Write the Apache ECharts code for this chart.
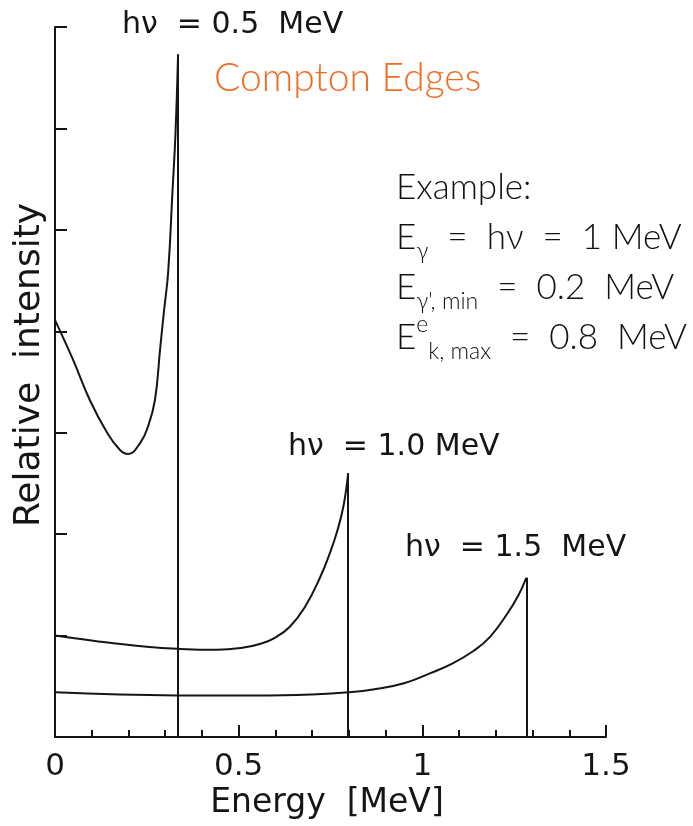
<!DOCTYPE html>
<html>
<head>
<meta charset="utf-8">
<script src="https://cdn.jsdelivr.net/npm/echarts@6/dist/echarts.min.js"></script>
<style>
  html, body { margin: 0; padding: 0; background: #ffffff; }
  #chart { width: 693px; height: 826px; }
</style>
</head>
<body>
<div id="chart"></div>
<script>
// Compton continua for three photon energies: [energy MeV, relative intensity]
const spectrum05 = [[0, 4.11], [0.049, 3.72], [0.095, 3.32], [0.142, 3.00], [0.177, 2.83],
  [0.199, 2.79], [0.232, 2.90], [0.253, 3.06], [0.272, 3.32], [0.286, 3.82], [0.297, 4.21],
  [0.308, 4.58], [0.320, 5.39], [0.328, 5.95], [0.335, 6.73]];
const spectrum10 = [[0, 1.00], [0.123, 0.94], [0.250, 0.89], [0.332, 0.87], [0.441, 0.86],
  [0.510, 0.88], [0.560, 0.92], [0.600, 0.98], [0.640, 1.09], [0.680, 1.28], [0.720, 1.56],
  [0.750, 1.83], [0.770, 2.05], [0.786, 2.29], [0.798, 2.60]];
const spectrum15 = [[0, 0.44], [0.333, 0.41], [0.550, 0.41], [0.700, 0.42], [0.800, 0.44],
  [0.870, 0.47], [0.950, 0.53], [1.022, 0.63], [1.080, 0.72], [1.140, 0.85], [1.185, 0.99],
  [1.232, 1.22], [1.262, 1.40], [1.283, 1.57]];

// Compton edge energies (MeV) where each continuum drops to zero
const edges = [0.335, 0.798, 1.283];
const edgePeaks = [6.73, 2.60, 1.57];
const photonLabels = ['hν  = 0.5  MeV', 'hν  = 1.0 MeV', 'hν  = 1.5  MeV'];

const xTicks = [0, 0.5, 1, 1.5];

const ink = '#151515';
const plotFont = 'DejaVu Sans';
const noteFont = 'Lato';

const chart = echarts.init(document.getElementById('chart'), null, { renderer: 'canvas' });

function edgeLine(i) {
  return {
    silent: true,
    symbol: 'none',
    label: { show: false },
    lineStyle: { color: ink, width: 2, type: 'solid' },
    data: [[{ coord: [edges[i], 0] }, { coord: [edges[i], edgePeaks[i]] }]]
  };
}

const spectra = [spectrum05, spectrum10, spectrum15];

chart.setOption({
  animation: false,
  backgroundColor: '#ffffff',
  grid: { left: 55, right: 87, top: 27, bottom: 89 },
  xAxis: {
    type: 'value',
    min: 0, max: 1.5, interval: 0.5,
    axisLine: { show: true, lineStyle: { color: ink, width: 2 } },
    axisTick: { show: true, inside: true, length: 12, lineStyle: { color: ink, width: 2 } },
    minorTick: { show: true, splitNumber: 5, length: 7, lineStyle: { color: ink, width: 2 } },
    splitLine: { show: false },
    axisLabel: {
      color: ink, fontFamily: plotFont, fontSize: 31, margin: 14,
      formatter: v => (xTicks.indexOf(v) >= 0 ? String(v) : '')
    }
  },
  yAxis: {
    type: 'value',
    min: 0, max: 7, interval: 1,
    axisLine: { show: true, lineStyle: { color: ink, width: 2 } },
    axisTick: { show: true, inside: true, length: 12, lineStyle: { color: ink, width: 2 } },
    splitLine: { show: false },
    axisLabel: { show: false }
  },
  series: spectra.map((d, i) => ({
    type: 'line',
    data: d,
    smooth: 0.45,
    symbol: 'none',
    lineStyle: { color: ink, width: 2 },
    markLine: edgeLine(i),
    z: 3
  })),
  graphic: [
    // photon energy labels above each edge
    { type: 'text', left: 122, top: 10, style: { text: photonLabels[0], font: '30px "' + plotFont + '"', fill: ink } },
    { type: 'text', left: 288, top: 432, style: { text: photonLabels[1], font: '30px "' + plotFont + '"', fill: ink } },
    { type: 'text', left: 405, top: 533, style: { text: photonLabels[2], font: '30px "' + plotFont + '"', fill: ink } },
    // axis titles
    {
      type: 'text', x: 327, y: 803,
      style: { text: 'Energy  [MeV]', font: '33px "' + plotFont + '"', fill: ink, align: 'center', verticalAlign: 'middle' }
    },
    {
      type: 'text', x: 30, y: 365, rotation: Math.PI / 2,
      style: { text: 'Relative  intensity', font: '36px "' + plotFont + '"', fill: ink, align: 'center', verticalAlign: 'middle' }
    },
    // annotation
    { type: 'text', left: 214, top: 59, style: { text: 'Compton Edges', font: '300 39px "' + noteFont + '"', fill: '#f26b21' } },
    {
      type: 'text', left: 396, top: 163,
      style: {
        text: 'Example:\n{m|E}{s|γ}{m|  =  hν  =  1 MeV}\n{m|E}{s|γ\', min}{m|  =  0.2  MeV}\n{m|E}{p|e}{s|k, max}{m|  =  0.8  MeV}',
        font: '300 35px "' + noteFont + '"', fill: '#111', lineHeight: 50,
        rich: {
          m: { fontFamily: noteFont, fontWeight: 300, fontSize: 35, lineHeight: 50, fill: '#111' },
          s: { fontFamily: noteFont, fontWeight: 300, fontSize: 23, lineHeight: 26, verticalAlign: 'bottom', fill: '#111' },
          p: { fontFamily: noteFont, fontWeight: 300, fontSize: 23, lineHeight: 36, verticalAlign: 'top', fill: '#111' }
        }
      }
    }
  ]
});
</script>
</body>
</html>
